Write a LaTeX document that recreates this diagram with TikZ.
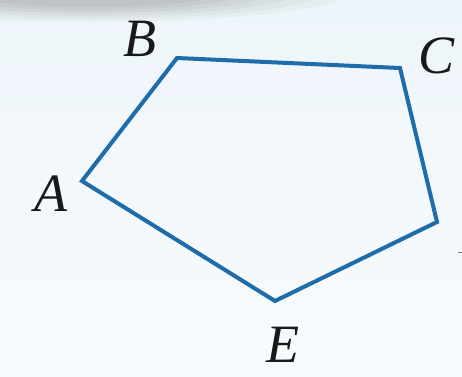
\documentclass[tikz,border=0pt]{standalone}
\usepackage{fontspec}
\setmainfont{Liberation Serif}
\begin{document}
\begin{tikzpicture}[x=1pt,y=-1pt,
  edge/.style={draw={rgb,255:red,30;green,108;blue,170},line width=4pt,line join=miter},
  vlabel/.style={font=\fontsize{54}{64}\selectfont\itshape,text={rgb,255:red,25;green,25;blue,25},inner sep=0pt}]
\useasboundingbox (0,0) rectangle (462,376);
\shade[top color={rgb,255:red,238;green,245;blue,250},bottom color={rgb,255:red,247;green,251;blue,253}] (0,0) rectangle (462,376);
% grey shadow at top left
\foreach \r/\o in {1.0/0.06,0.9/0.07,0.8/0.08,0.7/0.09,0.6/0.1,0.5/0.1}{
  \fill[gray,opacity=\o] (90,-8) ellipse ({260*\r} and {30*\r});
}
\coordinate (A) at (82,181);
\coordinate (B) at (177,58);
\coordinate (C) at (400,68);
\coordinate (D) at (437,222);
\coordinate (E) at (275,301);
\draw[edge] (A) -- (B) -- (C) -- (D) -- (E) -- cycle;
\node[vlabel] (lA) at (51,194) {A};
\node[vlabel] (lB) at (140,39) {B};
\node[vlabel] (lC) at (437,56) {C};
\node[vlabel] (lE) at (283,345) {E};
\draw[gray,line width=1pt] (458,252) -- (462,252);
\end{tikzpicture}
\end{document}
